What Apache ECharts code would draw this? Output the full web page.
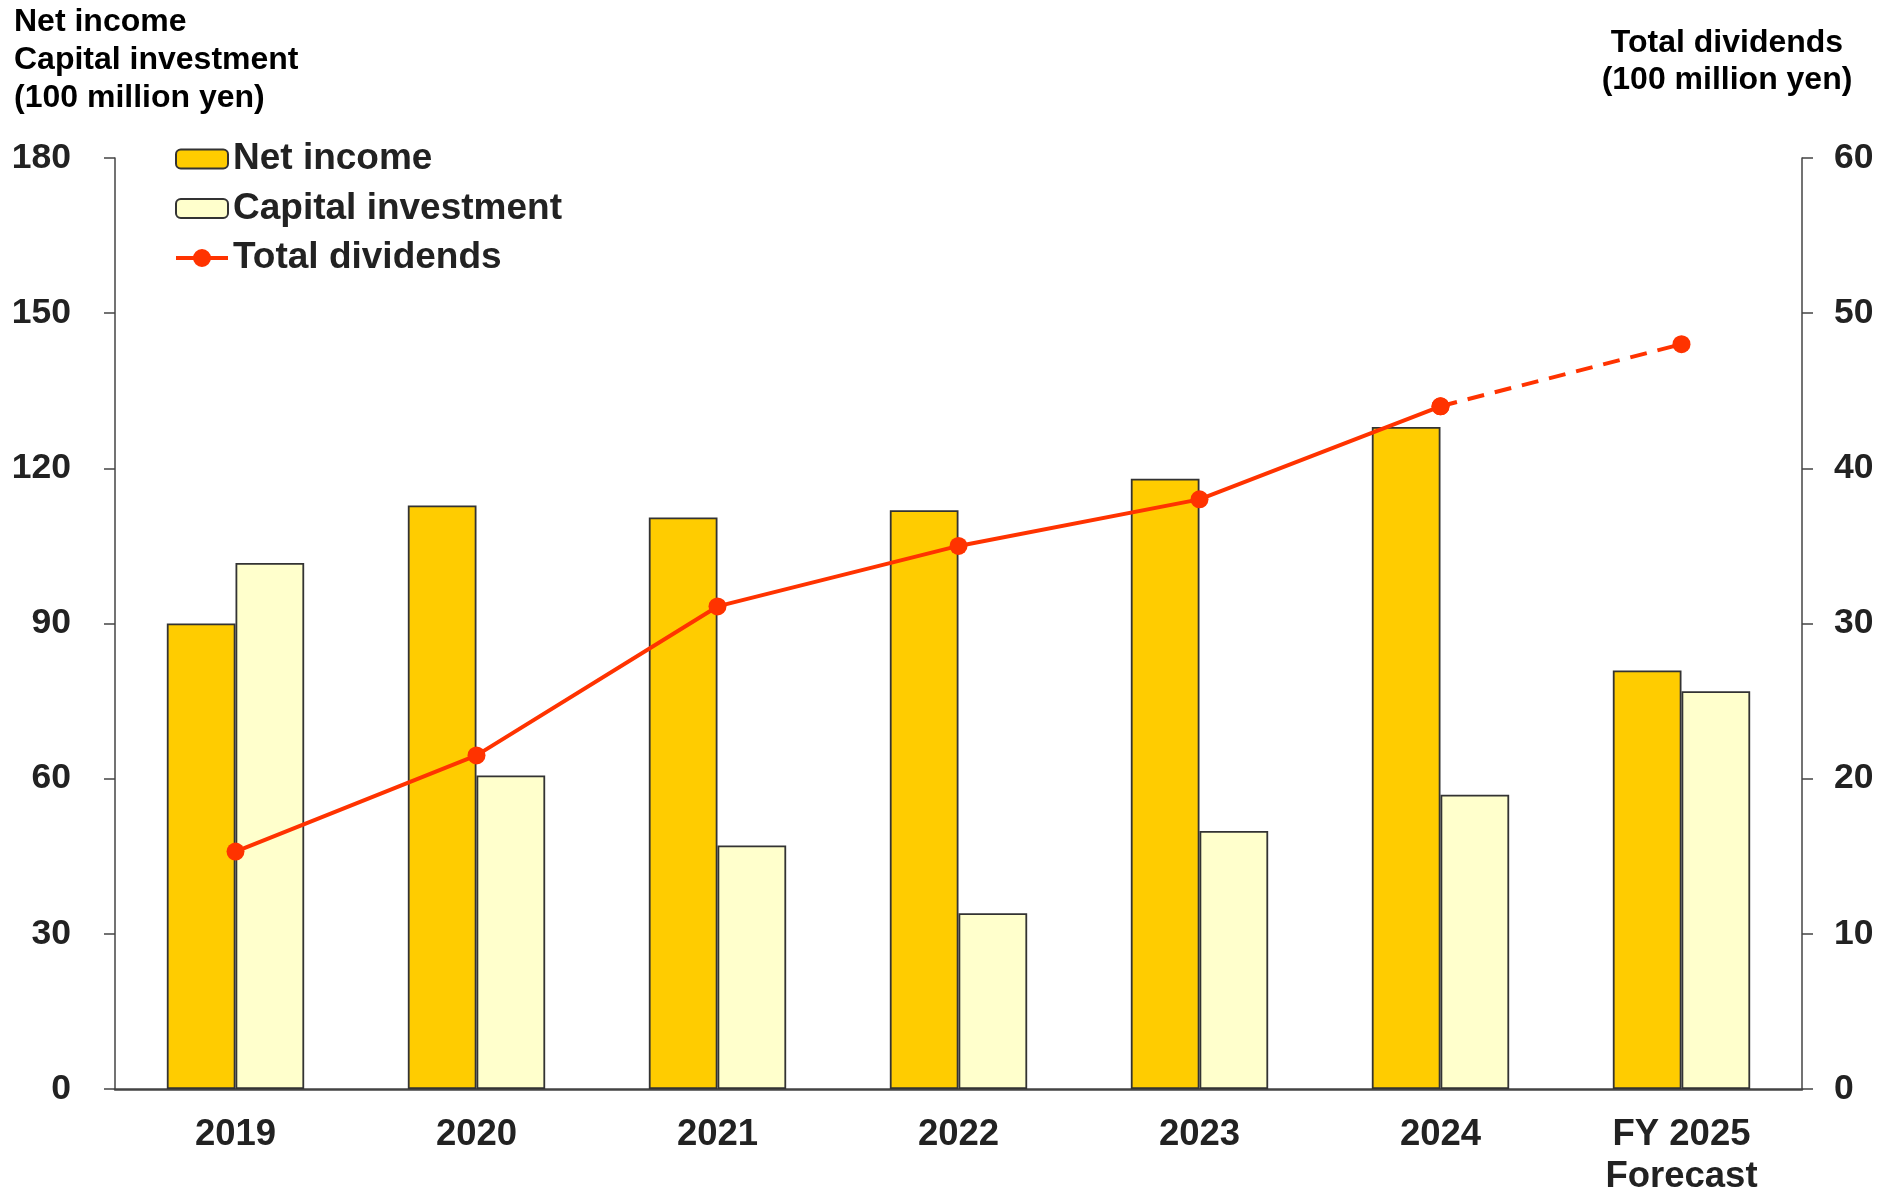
<!DOCTYPE html>
<html>
<head>
<meta charset="utf-8">
<script src="https://cdn.jsdelivr.net/npm/echarts@6/dist/echarts.min.js"></script>
<style>
html,body{margin:0;padding:0;background:#fff;}
#chart{width:1892px;height:1193px;}
</style>
</head>
<body>
<div id="chart"></div>
<script>
const categories = ['2019','2020','2021','2022','2023','2024','FY 2025\nForecast'];
const netIncome = [90.0, 112.8, 110.5, 111.9, 118.0, 128.0, 80.9];
const capitalInvestment = [101.7, 60.6, 47.1, 34.0, 49.9, 56.9, 76.9];
const dividendsActual = [15.3, 21.5, 31.1, 35.0, 38.0, 44.0, null];
const dividendsForecast = [null, null, null, null, null, 44.0, 48.0];
const leftTicks = {min: 0, max: 180, interval: 30};
const rightTicks = {min: 0, max: 60, interval: 10};

const FONT = '"Liberation Sans", Arial, sans-serif';
const LINE_ICON = 'path://M0,7.5 H52 V11.5 H0 Z M17,9.5 A9,9 0 1,1 35,9.5 A9,9 0 1,1 17,9.5 Z';
const chart = echarts.init(document.getElementById('chart'), null, {renderer: 'canvas'});
chart.setOption({
  backgroundColor: '#fff',
  animation: false,
  textStyle: {fontFamily: FONT},
  grid: {left: 115, right: 90, top: 158, bottom: 104, containLabel: false, outerBoundsMode: 'none'},
  legend: {
    data: ['Net income', 'Capital investment', {name: 'Total dividends', icon: LINE_ICON}],
    orient: 'vertical',
    left: 170,
    top: 134,
    itemWidth: 52,
    itemHeight: 19,
    itemGap: 9.5,
    textStyle: {fontFamily: FONT, fontWeight: 'bold', fontSize: 37, color: '#222', lineHeight: 40}
  },
  graphic: [
    {type: 'text', left: 14, top: 3, style: {text: 'Net income\nCapital investment\n(100 million yen)', font: 'bold 32px "Liberation Sans", Arial, sans-serif', fill: '#000', lineHeight: 38}},
    {type: 'text', x: 1727, y: 24, style: {text: 'Total dividends\n(100 million yen)', font: 'bold 32px "Liberation Sans", Arial, sans-serif', fill: '#000', lineHeight: 37.5, align: 'center', verticalAlign: 'top'}}
  ],
  xAxis: {
    type: 'category',
    data: categories,
    boundaryGap: true,
    axisLine: {lineStyle: {color: '#444', width: 2.5}},
    axisTick: {show: false},
    axisLabel: {fontFamily: FONT, fontWeight: 'bold', fontSize: 36.5, color: '#222', margin: 25, lineHeight: 42, interval: 0}
  },
  yAxis: [
    {
      type: 'value', min: leftTicks.min, max: leftTicks.max, interval: leftTicks.interval,
      splitLine: {show: false},
      axisLine: {show: true, lineStyle: {color: '#444', width: 1.5}},
      axisTick: {show: true, length: 11, lineStyle: {color: '#444', width: 1.5}},
      axisLabel: {fontFamily: FONT, fontWeight: 'bold', fontSize: 35.5, color: '#222', margin: 44}
    },
    {
      type: 'value', min: rightTicks.min, max: rightTicks.max, interval: rightTicks.interval,
      position: 'right',
      splitLine: {show: false},
      axisLine: {show: true, lineStyle: {color: '#444', width: 1.5}},
      axisTick: {show: true, length: 11, lineStyle: {color: '#444', width: 1.5}},
      axisLabel: {fontFamily: FONT, fontWeight: 'bold', fontSize: 35.5, color: '#222', margin: 32}
    }
  ],
  series: [
    {
      name: 'Net income', type: 'bar', data: netIncome,
      barGap: '0%', barCategoryGap: '43%',
      itemStyle: {color: '#FFCC00', borderColor: '#333', borderWidth: 1.8}
    },
    {
      name: 'Capital investment', type: 'bar', data: capitalInvestment,
      barGap: '0%', barCategoryGap: '43%',
      itemStyle: {color: '#FFFFCC', borderColor: '#333', borderWidth: 1.8}
    },
    {
      name: 'Total dividends', type: 'line', yAxisIndex: 1, data: dividendsActual,
      symbol: 'circle', symbolSize: 18, z: 5,
      itemStyle: {color: '#FF3300'},
      lineStyle: {color: '#FF3300', width: 4}
    },
    {
      name: 'Total dividends (forecast)', type: 'line', yAxisIndex: 1, data: dividendsForecast,
      symbol: 'circle', symbolSize: 18, z: 5,
      itemStyle: {color: '#FF3300'},
      lineStyle: {color: '#FF3300', width: 4, type: [17, 11]}
    }
  ]
});
</script>
</body>
</html>
